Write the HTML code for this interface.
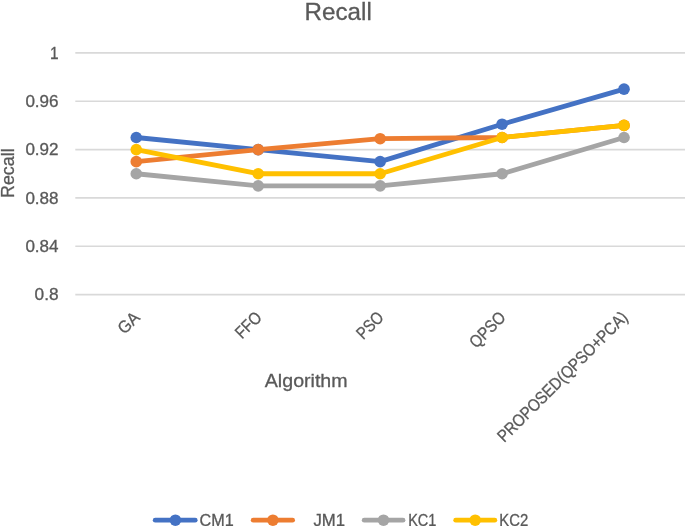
<!DOCTYPE html>
<html><head><meta charset="utf-8"><title>Recall</title>
<style>
html,body{margin:0;padding:0;background:#fff;}
svg{display:block;}
text{font-family:"Liberation Sans",sans-serif;fill:#595959;stroke:#595959;stroke-width:0.3;}
</style></head><body>
<svg width="685" height="526" viewBox="0 0 685 526">
<rect width="685" height="526" fill="#fff"/>
<line x1="75.3" y1="52.90" x2="685" y2="52.90" stroke="#D9D9D9" stroke-width="1.6"/>
<line x1="75.3" y1="101.24" x2="685" y2="101.24" stroke="#D9D9D9" stroke-width="1.6"/>
<line x1="75.3" y1="149.58" x2="685" y2="149.58" stroke="#D9D9D9" stroke-width="1.6"/>
<line x1="75.3" y1="197.92" x2="685" y2="197.92" stroke="#D9D9D9" stroke-width="1.6"/>
<line x1="75.3" y1="246.26" x2="685" y2="246.26" stroke="#D9D9D9" stroke-width="1.6"/>
<line x1="75.3" y1="294.60" x2="685" y2="294.60" stroke="#D9D9D9" stroke-width="1.6"/>
<text x="304.6" y="19.5" font-size="24.6" textLength="67.2" lengthAdjust="spacingAndGlyphs">Recall</text>
<text x="50.00" y="58.60" font-size="15.9" textLength="8.6" lengthAdjust="spacingAndGlyphs">1</text>
<text x="25.40" y="106.94" font-size="15.9" textLength="33.2" lengthAdjust="spacingAndGlyphs">0.96</text>
<text x="25.40" y="155.28" font-size="15.9" textLength="33.2" lengthAdjust="spacingAndGlyphs">0.92</text>
<text x="25.40" y="203.62" font-size="15.9" textLength="33.2" lengthAdjust="spacingAndGlyphs">0.88</text>
<text x="25.40" y="251.96" font-size="15.9" textLength="33.2" lengthAdjust="spacingAndGlyphs">0.84</text>
<text x="34.60" y="300.30" font-size="15.9" textLength="24.0" lengthAdjust="spacingAndGlyphs">0.8</text>
<text transform="translate(14,198.0) rotate(-90)" font-size="17.9" textLength="49.6" lengthAdjust="spacingAndGlyphs">Recall</text>
<text x="264.8" y="387.2" font-size="18.8" textLength="82.8" lengthAdjust="spacingAndGlyphs">Algorithm</text>
<text transform="translate(140.87,318.6) rotate(-45)" x="-23.2" y="0" font-size="17.2" textLength="23.2" lengthAdjust="spacingAndGlyphs">GA</text>
<text transform="translate(262.81,318.6) rotate(-45)" x="-29.5" y="0" font-size="17.2" textLength="29.5" lengthAdjust="spacingAndGlyphs">FFO</text>
<text transform="translate(384.75,318.6) rotate(-45)" x="-30.5" y="0" font-size="17.2" textLength="30.5" lengthAdjust="spacingAndGlyphs">PSO</text>
<text transform="translate(506.69,318.6) rotate(-45)" x="-43" y="0" font-size="17.2" textLength="43" lengthAdjust="spacingAndGlyphs">QPSO</text>
<text transform="translate(628.63,318.6) rotate(-45)" x="-176" y="0" font-size="17.2" textLength="176" lengthAdjust="spacingAndGlyphs">PROPOSED(QPSO+PCA)</text>
<polyline points="136.27,137.49 258.21,149.58 380.15,161.66 502.09,124.20 624.03,89.16" fill="none" stroke="#4472C4" stroke-width="4.8" stroke-linecap="round" stroke-linejoin="round"/>
<circle cx="136.27" cy="137.49" r="5.8" fill="#4472C4"/>
<circle cx="258.21" cy="149.58" r="5.8" fill="#4472C4"/>
<circle cx="380.15" cy="161.66" r="5.8" fill="#4472C4"/>
<circle cx="502.09" cy="124.20" r="5.8" fill="#4472C4"/>
<circle cx="624.03" cy="89.16" r="5.8" fill="#4472C4"/>
<polyline points="136.27,161.66 258.21,149.58 380.15,138.70 502.09,137.49 624.03,125.41" fill="none" stroke="#ED7D31" stroke-width="4.8" stroke-linecap="round" stroke-linejoin="round"/>
<circle cx="136.27" cy="161.66" r="5.8" fill="#ED7D31"/>
<circle cx="258.21" cy="149.58" r="5.8" fill="#ED7D31"/>
<circle cx="380.15" cy="138.70" r="5.8" fill="#ED7D31"/>
<circle cx="502.09" cy="137.49" r="5.8" fill="#ED7D31"/>
<circle cx="624.03" cy="125.41" r="5.8" fill="#ED7D31"/>
<polyline points="136.27,173.75 258.21,185.83 380.15,185.83 502.09,173.75 624.03,137.49" fill="none" stroke="#A5A5A5" stroke-width="4.8" stroke-linecap="round" stroke-linejoin="round"/>
<circle cx="136.27" cy="173.75" r="5.8" fill="#A5A5A5"/>
<circle cx="258.21" cy="185.83" r="5.8" fill="#A5A5A5"/>
<circle cx="380.15" cy="185.83" r="5.8" fill="#A5A5A5"/>
<circle cx="502.09" cy="173.75" r="5.8" fill="#A5A5A5"/>
<circle cx="624.03" cy="137.49" r="5.8" fill="#A5A5A5"/>
<polyline points="136.27,149.58 258.21,173.75 380.15,173.75 502.09,137.49 624.03,125.41" fill="none" stroke="#FFC000" stroke-width="4.8" stroke-linecap="round" stroke-linejoin="round"/>
<circle cx="136.27" cy="149.58" r="5.8" fill="#FFC000"/>
<circle cx="258.21" cy="173.75" r="5.8" fill="#FFC000"/>
<circle cx="380.15" cy="173.75" r="5.8" fill="#FFC000"/>
<circle cx="502.09" cy="137.49" r="5.8" fill="#FFC000"/>
<circle cx="624.03" cy="125.41" r="5.8" fill="#FFC000"/>
<line x1="155.2" y1="520.2" x2="195.2" y2="520.2" stroke="#4472C4" stroke-width="4.8" stroke-linecap="round"/>
<circle cx="175.4" cy="520.2" r="5.8" fill="#4472C4"/>
<text x="199.6" y="526.2" font-size="17.0" textLength="34.2" lengthAdjust="spacingAndGlyphs">CM1</text>
<line x1="253.2" y1="520.2" x2="292.6" y2="520.2" stroke="#ED7D31" stroke-width="4.8" stroke-linecap="round"/>
<circle cx="272.9" cy="520.2" r="5.8" fill="#ED7D31"/>
<text x="313.4" y="526.2" font-size="17.0" textLength="31.6" lengthAdjust="spacingAndGlyphs">JM1</text>
<line x1="364.2" y1="520.2" x2="403.0" y2="520.2" stroke="#A5A5A5" stroke-width="4.8" stroke-linecap="round"/>
<circle cx="383.5" cy="520.2" r="5.8" fill="#A5A5A5"/>
<text x="408.2" y="526.2" font-size="17.0" textLength="28.2" lengthAdjust="spacingAndGlyphs">KC1</text>
<line x1="455.7" y1="520.2" x2="494.8" y2="520.2" stroke="#FFC000" stroke-width="4.8" stroke-linecap="round"/>
<circle cx="475.2" cy="520.2" r="5.8" fill="#FFC000"/>
<text x="499.3" y="526.2" font-size="17.0" textLength="28.9" lengthAdjust="spacingAndGlyphs">KC2</text>
</svg></body></html>
